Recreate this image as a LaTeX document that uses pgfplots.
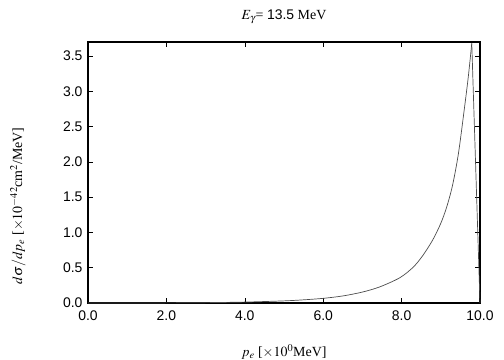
\documentclass[border=0pt]{standalone}
\usepackage{mathptmx}
\usepackage{fontspec}
\setmainfont{Liberation Serif}
\setsansfont{Liberation Sans}
\usepackage{pgfplots}
\pgfplotsset{compat=1.18}
\begin{document}
\begin{tikzpicture}[x=1bp,y=1bp]
\path[use as bounding box] (-88bp,-57bp) rectangle (416bp,303bp);
\begin{axis}[
  at={(0,0)}, anchor=south west,
  scale only axis, width=392bp, height=261bp,
  xmin=0, xmax=10, ymin=0, ymax=3.7,
  xtick={0,2,4,6,8,10}, ytick={0,0.5,1,1.5,2,2.5,3,3.5},
  tick align=inside, major tick length=5bp,
  tick style={black, line width=0.6bp},
  axis line style={line width=1.3bp},
  /pgf/number format/fixed,
  /pgf/number format/fixed zerofill,
  /pgf/number format/precision=1,
  /pgf/number format/assume math mode=true,
  ticklabel style={font=\sffamily\fontsize{14}{16}\selectfont},
  xticklabel style={yshift=-4bp},
  yticklabel style={xshift=-2bp},
  clip=false,
]
\addplot[line width=0.7bp, color=black!70, smooth] coordinates {
(0,0) (1,0.0003) (2,0.0015) (3,0.005) (4,0.013) (5,0.03) (5.5,0.045)
(6,0.066) (6.5,0.10) (7,0.155) (7.45,0.23) (7.96,0.36) (8.3,0.51)
(8.55,0.68) (8.8,0.90) (9.0,1.13) (9.15,1.36) (9.3,1.67) (9.45,2.12)
(9.6,2.75) (9.7,3.20) (9.79,3.68)
};
\addplot[line width=0.7bp, color=black!70] coordinates {(9.79,3.68) (10,0)};
\node[font=\fontsize{14}{16}\selectfont] at (axis description cs:0.5,1) [yshift=25bp] {$E_\gamma$= {\sffamily 13.5} MeV};
\node[font=\fontsize{14}{16}\selectfont] at (axis description cs:0.5,0) [yshift=-49bp] {$p_e$ [$\times10^0$MeV]};
\node[font=\fontsize{14}{16}\selectfont, rotate=90] at (axis description cs:-0.179,0.372) {$d\sigma/dp_e$ [$\times10^{-42}$cm$^2$/MeV]};
\end{axis}
\end{tikzpicture}
\end{document}
